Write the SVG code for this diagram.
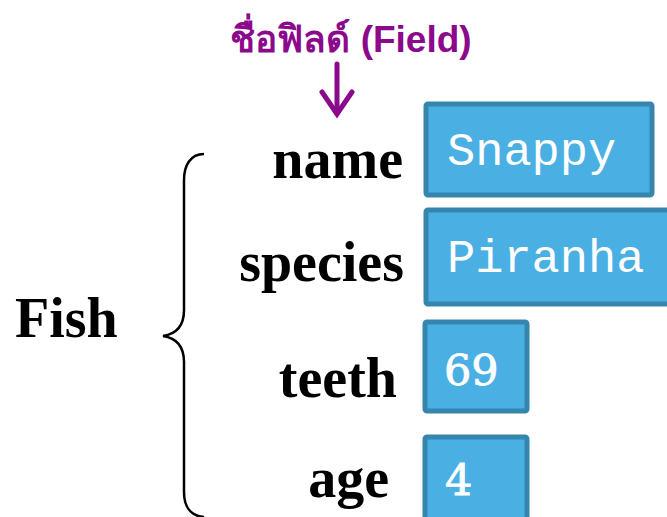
<svg xmlns="http://www.w3.org/2000/svg" width="667" height="517" viewBox="0 0 667 517">
<defs>
<style>
.lbl{font-family:"Liberation Serif",serif;font-weight:bold;font-size:56px;fill:#000;text-anchor:end}
.box{fill:#4AB0E4;stroke:#3585AD;stroke-width:5}
.mono{font-family:"Liberation Mono",monospace;font-size:47px;fill:#fff}
.num{font-family:"DejaVu Serif",serif;font-size:43px;fill:#fff;stroke:#fff;stroke-width:0.8}
</style>
</defs>
<rect width="667" height="517" fill="#fff"/>
<g id="title">
<text x="351" y="52" text-anchor="middle" font-family="Liberation Sans, Noto Sans, sans-serif" font-weight="bold" font-size="37" fill="#8B0A8B">ชื่อฟิลด์ (Field)</text>
</g>
<g id="connectors" fill="none" stroke="#8B0A8B" stroke-width="5" stroke-linecap="round">
<path d="M337 64 V112"/>
<path d="M322 92 L337 114 L352 92"/>
</g>
<g id="brace">
<path d="M204 154 C190 154 184 166 184 180 V310 C184 326 176 334 163 336 C176 338 184 346 184 362 V492 C184 506 190 516 204 517" fill="none" stroke="#000" stroke-width="2.5"/>
</g>
<g id="fish"><text x="15" y="337" font-family="Liberation Serif,serif" font-weight="bold" font-size="56">Fish</text></g>
<g id="name"><text class="lbl" x="403" y="178">name</text>
<rect class="box" x="426" y="104" width="226" height="91" rx="2"/>
<text class="mono" x="447" y="165">Snappy</text></g>
<g id="species"><text class="lbl" x="404" y="281">species</text>
<rect class="box" x="426" y="210" width="250" height="94" rx="2"/>
<text class="mono" x="447" y="272">Piranha</text></g>
<g id="teeth"><text class="lbl" x="397" y="397">teeth</text>
<rect class="box" x="425" y="322" width="102" height="89" rx="2"/>
<text class="num" x="444" y="385">69</text></g>
<g id="age"><text class="lbl" x="389" y="497">age</text>
<rect class="box" x="425" y="437" width="102" height="100" rx="2"/>
<text class="num" x="445" y="495">4</text></g>
</svg>
